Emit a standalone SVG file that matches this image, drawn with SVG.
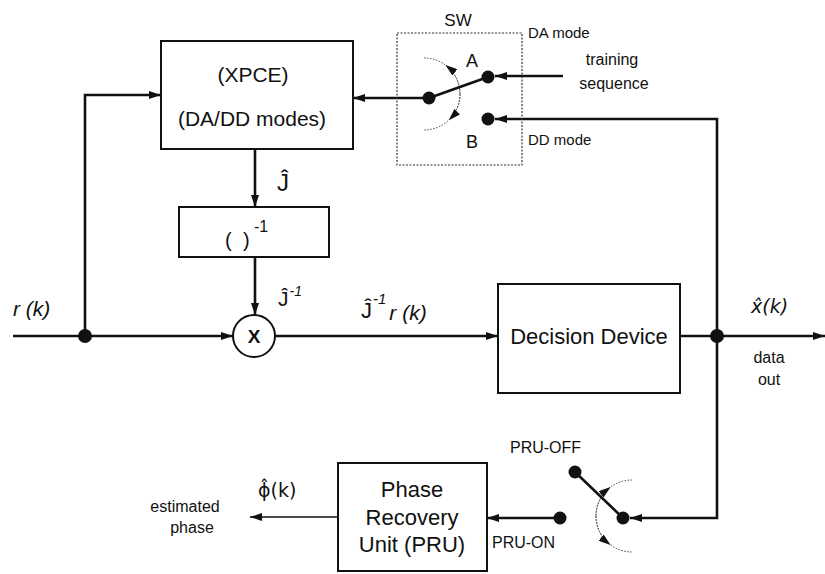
<svg xmlns="http://www.w3.org/2000/svg" width="825" height="574" viewBox="0 0 825 574">
<style>
  text { font-family: "Liberation Sans", Arial, "DejaVu Sans", sans-serif; fill: #111; }
  .dj { font-family: "DejaVu Sans", "Liberation Sans", sans-serif; }
  .box { fill: #fff; stroke: #111; stroke-width: 2; }
  .sw { fill: none; stroke: #333; stroke-width: 1.2; stroke-dasharray: 2 1.5; }
  .wire { fill: none; stroke: #111; stroke-width: 2.6; }
  .thin { fill: none; stroke: #111; stroke-width: 1.5; }
  .arc { fill: none; stroke: #444; stroke-width: 1; stroke-dasharray: 1.5 1.5; }
  .dot { fill: #111; }
  .c { text-anchor: middle; }
  .it { font-style: italic; }
</style>
<defs>
  <marker id="arr" viewBox="0 0 12 8" refX="12" refY="4" markerWidth="12" markerHeight="8" markerUnits="userSpaceOnUse" orient="auto">
    <path d="M0,0 L12,4 L0,8 z" fill="#111"/>
  </marker>
  <marker id="arrs" viewBox="0 0 12 8" refX="11" refY="4" markerWidth="12" markerHeight="8" markerUnits="userSpaceOnUse" orient="auto">
    <path d="M0,0 L12,4 L0,8 z" fill="#111"/>
  </marker>
</defs>

<g id="connectors">
  <path class="wire" d="M13,336 H233" marker-end="url(#arr)"/>
  <path class="wire" d="M85,336 V95 H161" marker-end="url(#arr)"/>
  <path class="wire" d="M255,149 V207" marker-end="url(#arr)"/>
  <path class="wire" d="M255,257 V315" marker-end="url(#arr)"/>
  <path class="wire" d="M275,336 H498" marker-end="url(#arr)"/>
  <path class="wire" d="M680,336 H825" marker-end="url(#arr)"/>
  <path class="wire" d="M717,336 V119 H495" marker-end="url(#arr)"/>
  <path class="wire" d="M717,336 V518 H630" marker-end="url(#arr)"/>
  <path class="wire" d="M563,76 H495" marker-end="url(#arr)"/>
  <path class="wire" d="M429,98 H353" marker-end="url(#arr)"/>
  <path class="wire" d="M560,518 H487" marker-end="url(#arr)"/>
  <path class="thin" d="M338,517 H250" marker-end="url(#arr)"/>
  <circle class="dot" cx="85" cy="336" r="7"/>
  <circle class="dot" cx="717" cy="336" r="7"/>
</g>

<g id="xpce">
  <rect class="box" x="161" y="41" width="192" height="108"/>
  <text class="c" x="253" y="82" font-size="21">(XPCE)</text>
  <text class="c" x="252" y="126" font-size="21">(DA/DD modes)</text>
  <text x="277" y="191" font-size="24">Ĵ</text>
</g>

<g id="inverse">
  <rect class="box" x="179" y="207" width="150" height="50"/>
  <text font-size="20"><tspan x="225" y="247">(</tspan><tspan x="243" y="247">)</tspan><tspan x="254" y="232" font-size="16">-1</tspan></text>
  <text x="278" y="306" font-size="21">Ĵ<tspan class="it" font-size="14" dy="-10" dx="1">-1</tspan></text>
</g>

<g id="multiplier">
  <circle cx="254" cy="336" r="21" fill="#fff" stroke="#111" stroke-width="2"/>
  <text class="c" x="254" y="343" font-size="19" font-weight="bold">X</text>
</g>

<g id="labels-main">
  <text class="it" x="13" y="316" font-size="21">r (k)</text>
  <text x="361" y="318" font-size="22">Ĵ<tspan class="it" font-size="15" dy="-14" dx="1">-1</tspan><tspan class="it" font-size="21" dy="16" dx="3">r (k)</tspan></text>
</g>

<g id="switch-sw">
  <rect class="sw" x="397" y="33" width="125" height="132"/>
  <text class="c" x="458" y="26" font-size="17">SW</text>
  <text x="528" y="38" font-size="15">DA mode</text>
  <text x="528" y="145" font-size="15">DD mode</text>
  <text class="c" x="612" y="65" font-size="16">training</text>
  <text class="c" x="614" y="89" font-size="16">sequence</text>
  <text class="c" x="472" y="67" font-size="18">A</text>
  <text class="c" x="472" y="148" font-size="18">B</text>
  <path class="arc" d="M424,58 A36,36 0 0 1 424,130"/>
  <path class="arc" d="M460,94 A36,36 0 0 0 446.2,65.6" marker-end="url(#arrs)"/>
  <path class="arc" d="M460,94 A36,36 0 0 1 449.5,119.5" marker-end="url(#arrs)"/>
  <path class="wire" d="M429,98 L488,77"/>
  <circle class="dot" cx="429" cy="98" r="6.5"/>
  <circle class="dot" cx="488" cy="77" r="6.5"/>
  <circle class="dot" cx="488" cy="119" r="6.5"/>
</g>

<g id="decision">
  <rect class="box" x="498" y="284" width="182" height="109"/>
  <text class="c" x="589" y="344" font-size="22">Decision Device</text>
</g>

<g id="output-labels">
  <text class="dj it" x="751" y="313" font-size="19">x̂(k)</text>
  <text class="c" x="769" y="363" font-size="16">data</text>
  <text class="c" x="769" y="385" font-size="16">out</text>
</g>

<g id="switch-pru">
  <text x="510" y="453" font-size="16">PRU-OFF</text>
  <text x="492" y="548" font-size="16">PRU-ON</text>
  <path class="arc" d="M632,480 A36,36 0 0 0 632,552"/>
  <path class="arc" d="M596,516 A36,36 0 0 1 609.8,487.6" marker-end="url(#arrs)"/>
  <path class="arc" d="M596,516 A36,36 0 0 0 609.8,544.4" marker-end="url(#arrs)"/>
  <path class="wire" d="M623,518 L575,472"/>
  <circle class="dot" cx="623" cy="518" r="6.5"/>
  <circle class="dot" cx="575" cy="472" r="6.5"/>
  <circle class="dot" cx="560" cy="518" r="6.5"/>
</g>

<g id="pru">
  <rect class="box" x="338" y="463" width="149" height="108"/>
  <text class="c" x="412" y="497" font-size="22">Phase</text>
  <text class="c" x="412" y="525" font-size="22">Recovery</text>
  <text class="c" x="412" y="552" font-size="22">Unit (PRU)</text>
</g>

<g id="phase-out">
  <text class="dj" x="258" y="497" font-size="19">ϕ̂(k)</text>
  <text class="c" x="185" y="512" font-size="16">estimated</text>
  <text class="c" x="192" y="533" font-size="16">phase</text>
</g>
</svg>
